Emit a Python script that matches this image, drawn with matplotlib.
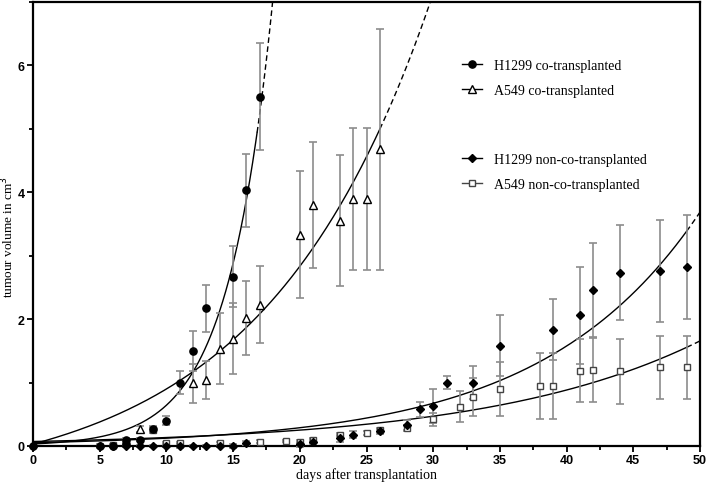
"""Tumour volume growth curves after transplantation, four cell-line groups."""

import numpy as np
import matplotlib
matplotlib.use("Agg")
import matplotlib.pyplot as plt
from matplotlib.lines import Line2D
from matplotlib.ticker import MultipleLocator

# --- data ---------------------------------------------------------------
h1299_co_days = [0, 5, 6, 7, 7, 8, 9, 10, 11, 12, 13, 15, 16, 17]
h1299_co_vol = [0.0, 0.0, 0.0, 0.03, 0.1, 0.1, 0.27, 0.4, 1.0, 1.5, 2.17, 2.67, 4.03, 5.51]
h1299_co_err = [0.0, 0.02, 0.02, 0.02, 0.02, 0.02, 0.05, 0.07, 0.18, 0.31, 0.37, 0.48, 0.58, 0.85]

a549_co_days = [8, 12, 13, 14, 15, 16, 17, 20, 21, 23, 24, 25, 26]
a549_co_vol = [0.27, 0.99, 1.04, 1.53, 1.69, 2.02, 2.23, 3.33, 3.8, 3.55, 3.9, 3.9, 4.68]
a549_co_err = [0.05, 0.31, 0.3, 0.56, 0.56, 0.58, 0.6, 1.0, 1.0, 1.03, 1.12, 1.12, 1.9]

h1299_non_days = [0, 5, 6, 7, 8, 9, 10, 11, 12, 13, 14, 15, 16, 20, 21, 23, 24, 26,
                  28, 29, 30, 31, 33, 35, 39, 41, 42, 44, 47, 49]
h1299_non_vol = [0.0, 0.0, 0.0, 0.0, 0.0, 0.0, 0.0, 0.0, 0.0, 0.0, 0.0, 0.0, 0.05, 0.03,
                 0.07, 0.12, 0.18, 0.23, 0.33, 0.58, 0.63, 1.0, 1.0, 1.58, 1.83, 2.06,
                 2.46, 2.73, 2.76, 2.82]
h1299_non_err = [0.0, 0.03, 0.02, 0.02, 0.02, 0.02, 0.02, 0.03, 0.02, 0.02, 0.02, 0.03,
                 0.03, 0.04, 0.04, 0.05, 0.05, 0.04, 0.08, 0.12, 0.27, 0.1, 0.26, 0.48,
                 0.48, 0.76, 0.74, 0.75, 0.8, 0.82]

a549_non_days = [6, 9, 10, 11, 14, 17, 19, 20, 21, 23, 25, 26, 28, 30, 32, 33, 35, 38,
                 39, 41, 42, 44, 47, 49]
a549_non_vol = [0.01, 0.25, 0.05, 0.05, 0.04, 0.07, 0.08, 0.07, 0.1, 0.18, 0.2, 0.25,
                0.28, 0.42, 0.62, 0.77, 0.9, 0.94, 0.94, 1.19, 1.2, 1.18, 1.24, 1.24]
a549_non_err = [0.02, 0.05, 0.02, 0.02, 0.02, 0.02, 0.02, 0.02, 0.02, 0.03, 0.03, 0.03,
                0.05, 0.1, 0.24, 0.3, 0.43, 0.52, 0.52, 0.5, 0.5, 0.51, 0.5, 0.5]

# exponential fits drawn in the figure: (offset, amplitude, rate, solid_end, dashed_end)
fit_h1299_co = (0.0, 0.032, 0.30, 16.8, 18.5)
fit_a549_co = (0.03, 0.709, 0.08, 26.0, 31.0)
fit_h1299_non = (0.0, 0.0526, 0.085, 49.0, 50.0)
fit_a549_non = (0.0, 0.071, 0.063, 49.0, 50.0)

labels = ["H1299 co-transplanted", "A549 co-transplanted",
          "H1299 non-co-transplanted", "A549 non-co-transplanted"]

SERIF = "Liberation Serif"
SANS = "Liberation Sans"
ERR_COLOR = "#8c8c8c"


def fit_curve(ax, params):
    c, a, b, x_solid, x_end = params
    if c:
        f = lambda x: c + a * (np.exp(b * x) - 1)
    else:
        f = lambda x: a * np.exp(b * x)
    xs = np.linspace(0, x_solid, 300)
    ax.plot(xs, f(xs), color="black", lw=1.0, zorder=2)
    xd = np.linspace(x_solid, x_end, 60)
    ax.plot(xd, f(xd), color="black", lw=1.0, ls=(0, (4, 2.5)), zorder=2)


def series(ax, days, vol, err, **marker):
    ax.errorbar(days, vol, yerr=err, fmt="none", ecolor=ERR_COLOR, elinewidth=1.2,
                capsize=3, capthick=1.2, zorder=3, clip_on=False)
    ax.plot(days, vol, ls="none", zorder=4, clip_on=False, **marker)


fig = plt.figure(figsize=(7.09, 4.89), dpi=100)
ax = fig.add_axes([33 / 709, 42 / 489, 667 / 709, 444 / 489])

fit_curve(ax, fit_h1299_co)
fit_curve(ax, fit_a549_co)
fit_curve(ax, fit_h1299_non)
fit_curve(ax, fit_a549_non)

circle = dict(marker="o", ms=5.2, mfc="black", mec="black")
triangle = dict(marker="^", ms=5.5, mfc="white", mec="black", mew=1.0)
diamond = dict(marker="D", ms=4.3, mfc="black", mec="black")
square = dict(marker="s", ms=4.2, mfc="white", mec="#444444", mew=1.0)

series(ax, a549_non_days, a549_non_vol, a549_non_err, **square)
series(ax, h1299_non_days, h1299_non_vol, h1299_non_err, **diamond)
series(ax, a549_co_days, a549_co_vol, a549_co_err, **triangle)
series(ax, h1299_co_days, h1299_co_vol, h1299_co_err, **circle)

ax.set_xlim(0, 50)
ax.set_ylim(0, 7)
ax.xaxis.set_major_locator(MultipleLocator(5))
ax.xaxis.set_minor_locator(MultipleLocator(2.5))
ax.yaxis.set_major_locator(MultipleLocator(2))
ax.yaxis.set_minor_locator(MultipleLocator(1))
ax.tick_params(which="major", length=4, width=1.3, direction="out", pad=2)
ax.tick_params(which="minor", length=3, width=1.3, direction="out")
ax.tick_params(top=False, right=False, which="both")
for spine in ax.spines.values():
    spine.set_linewidth(1.6)

for lab in ax.get_xticklabels() + ax.get_yticklabels():
    lab.set_fontfamily(SANS)
    lab.set_fontweight("bold")
    lab.set_fontsize(9)

ax.set_xlabel("days after transplantation", family=SERIF, fontsize=10, va="center")
ax.xaxis.set_label_coords(0.5, -0.064)
ax.set_ylabel("tumour volume in cm$^3$", family=SERIF, fontsize=9.5, va="center")
ax.yaxis.set_label_coords(-0.037, 0.473)


def handle(line_color, **marker):
    return Line2D([], [], color=line_color, lw=1.0, **marker)


leg_kw = dict(frameon=False, loc="upper left", borderaxespad=0, borderpad=0,
              handlelength=1.45, handletextpad=0.85, labelspacing=0.85,
              prop={"family": SERIF, "size": 10})
leg1 = ax.legend([handle("black", **circle), handle("black", **triangle)],
                 labels[:2], bbox_to_anchor=(0.643, 0.872), **leg_kw)
ax.add_artist(leg1)
ax.legend([handle("black", **diamond), handle("#444444", **square)],
          labels[2:], bbox_to_anchor=(0.643, 0.66), **leg_kw)

fig.savefig("out.png", dpi=100)
